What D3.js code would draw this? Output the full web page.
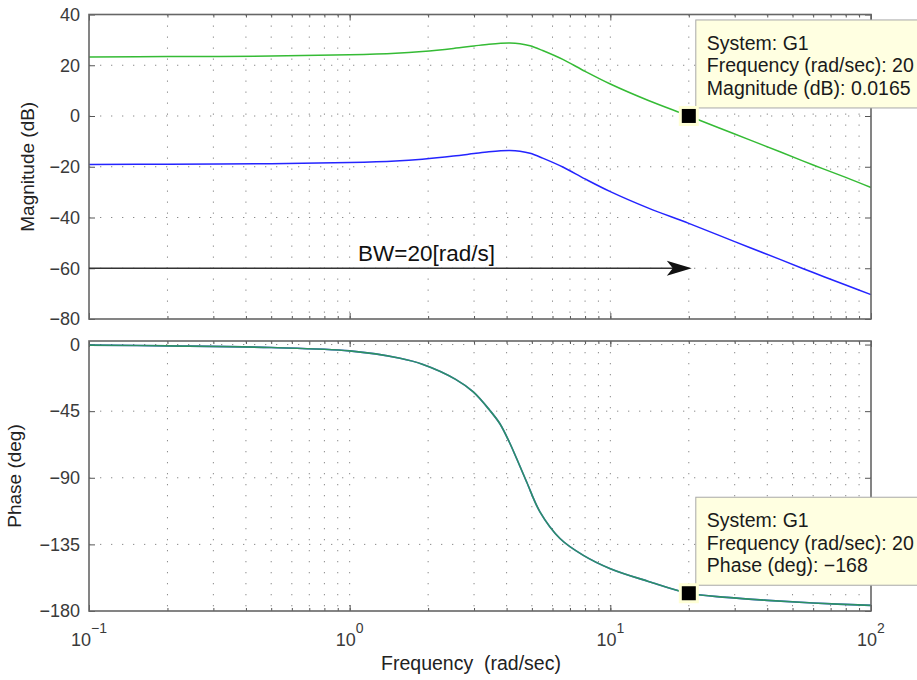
<!DOCTYPE html>
<html>
<head>
<meta charset="utf-8">
<script src="https://cdn.jsdelivr.net/npm/d3@7"></script>
<style>
  body { margin: 0; background: #fff; }
  svg { display: block; font-family: "Liberation Sans", Arial, sans-serif; }
</style>
</head>
<body>
<svg id="chart" width="917" height="680"></svg>
<script>
// Frequency response of G1 (green) and a scaled copy (blue)
const freqMag = [0.1, 0.2, 0.5, 1, 1.5, 1.9, 2.5, 3.0, 3.42, 3.8, 4.12, 4.5, 4.92, 5.5, 6.6, 8, 10, 14, 20, 30, 45, 60, 80, 100];
const magG1   = [23.3, 23.4, 23.6, 24.1, 24.7, 25.4, 26.6, 27.6, 28.3, 28.7, 28.8, 28.5, 27.7, 25.8, 22.2, 17.6, 12.6, 6.1, 0.0165, -7.1, -14.2, -19.3, -24.2, -28.2];
const magG2   = [-19.1, -19.0, -18.8, -18.3, -17.7, -17.0, -15.8, -14.8, -14.1, -13.7, -13.6, -13.9, -14.7, -16.6, -20.2, -24.8, -29.8, -36.3, -42.3, -49.5, -56.6, -61.7, -66.6, -70.4];

const freqPhase = [0.1, 0.2, 0.5, 1, 1.56, 1.9, 2.55, 2.98, 3.45, 3.77, 4.1, 4.37, 4.78, 5.37, 6.41, 7.88, 10, 14, 20, 28, 40, 60, 100];
const phaseDeg  = [-0.4, -0.9, -2.0, -4.3, -9.3, -13.3, -23.5, -32.0, -44.5, -53.5, -66, -77, -93, -113, -131, -142.4, -151.4, -160, -168, -170.8, -172.8, -174.6, -176.2];

const magTicks = [40, 20, 0, -20, -40, -60, -80];
const phaseTicks = [0, -45, -90, -135, -180];
const decadeTicks = [0.1, 1, 10, 100];
const decadeExponents = ["−1", "0", "1", "2"];

const bandwidth = 20;          // rad/s
const bwLevel = -60;           // dB, height of the annotation arrow
const tipFreq = 20, tipMag = 0.0165, tipPhase = -168;

const svg = d3.select("#chart");

const x = d3.scaleLog().domain([0.1, 100]).range([89, 871]);
const yMag = d3.scaleLinear().domain([-80, 40]).range([319, 14.5]);
const yPh = d3.scaleLinear().domain([-180, 2.4]).range([611, 341]);

const minorTicks = x.ticks();
const fmt = d => d < 0 ? "−" + (-d) : String(d);

function panel(y, ticks) {
  const [bottom, top] = y.range();
  const g = svg.append("g");
  g.append("rect").attr("x", x.range()[0]).attr("y", top)
    .attr("width", x.range()[1] - x.range()[0]).attr("height", bottom - top)
    .attr("fill", "#fff");

  // dotted grid
  const grid = g.append("g").attr("stroke", "#8a8a8a").attr("stroke-width", 1)
    .attr("stroke-dasharray", "1.3,9.7");
  grid.selectAll("line.v").data(minorTicks.filter(v => v > 0.1 && v < 100)).join("line")
    .attr("x1", d => x(d)).attr("x2", d => x(d)).attr("y1", top).attr("y2", bottom);
  grid.selectAll("line.h").data(ticks.filter(v => y(v) > top + 1 && y(v) < bottom - 1)).join("line")
    .attr("x1", x.range()[0]).attr("x2", x.range()[1]).attr("y1", d => y(d)).attr("y2", d => y(d));

  // inward ticks on all four sides
  const axes = g.append("g").attr("class", "axes");
  const left = axes.append("g").attr("transform", `translate(${x.range()[0]},0)`)
    .call(d3.axisLeft(y).tickValues(ticks).tickSize(-6).tickPadding(9).tickFormat(fmt));
  axes.append("g").attr("transform", `translate(${x.range()[1]},0)`)
    .call(d3.axisRight(y).tickValues(ticks).tickSize(-6).tickFormat(""));
  axes.append("g").attr("transform", `translate(0,${top})`)
    .call(d3.axisTop(x).tickValues(minorTicks).tickSize(-3).tickFormat(""));
  axes.append("g").attr("transform", `translate(0,${top})`)
    .call(d3.axisTop(x).tickValues(decadeTicks).tickSize(-6).tickFormat(""));
  axes.append("g").attr("transform", `translate(0,${bottom})`)
    .call(d3.axisBottom(x).tickValues(minorTicks).tickSize(-3).tickFormat(""));
  axes.append("g").attr("transform", `translate(0,${bottom})`)
    .call(d3.axisBottom(x).tickValues(decadeTicks).tickSize(-6).tickFormat(""));
  axes.selectAll(".domain").remove();
  axes.selectAll(".tick line").attr("stroke", "#555");
  left.selectAll("text").attr("font-size", 18).attr("fill", "#3a3a3a")
    .attr("font-family", "Liberation Sans, Arial, sans-serif");
  return { g, top, bottom };
}

const pMag = panel(yMag, magTicks);
const pPh = panel(yPh, phaseTicks);

// curves
const smooth = d3.curveCatmullRom.alpha(0.5);
const magLine = (vals) => d3.line().x((d, i) => x(freqMag[i])).y(d => yMag(d)).curve(smooth)(vals);
const phLine = d3.line().x((d, i) => x(freqPhase[i])).y(d => yPh(d)).curve(smooth);

svg.append("path").attr("d", magLine(magG2)).attr("fill", "none").attr("stroke", "#2424ff").attr("stroke-width", 1.5);
svg.append("path").attr("d", magLine(magG1)).attr("fill", "none").attr("stroke", "#35bb35").attr("stroke-width", 1.5);
svg.append("path").attr("d", phLine(phaseDeg)).attr("fill", "none").attr("stroke", "#2424ff").attr("stroke-width", 1.6);
svg.append("path").attr("d", phLine(phaseDeg)).attr("fill", "none").attr("stroke", "#2fb52f").attr("stroke-width", 1.6).attr("stroke-opacity", 0.75);

// frames
[pMag, pPh].forEach(p => {
  svg.append("rect").attr("x", x.range()[0]).attr("y", p.top)
    .attr("width", x.range()[1] - x.range()[0]).attr("height", p.bottom - p.top)
    .attr("fill", "none").attr("stroke", "#666").attr("stroke-width", 1.6);
});

// bandwidth arrow
const ay = yMag(bwLevel), ax0 = x(0.1), ax1 = x(bandwidth) + 3;
svg.append("line").attr("x1", ax0).attr("x2", ax1 - 18).attr("y1", ay).attr("y2", ay)
  .attr("stroke", "#333").attr("stroke-width", 1.6);
svg.append("path")
  .attr("d", `M${ax1},${ay} L${ax1 - 25},${ay - 7.5} L${ax1 - 19},${ay} L${ax1 - 25},${ay + 7.5} Z`)
  .attr("fill", "#111");
svg.append("text").attr("x", 358).attr("y", ay - 7).attr("font-size", 22.5).attr("fill", "#111")
  .text("BW=" + bandwidth + "[rad/s]");

// x tick labels (10^n)
const xl = svg.append("g");
decadeTicks.forEach((v, i) => {
  const t = xl.append("text").attr("x", x(v)).attr("y", 646).attr("text-anchor", "middle")
    .attr("fill", "#3a3a3a").attr("font-size", 18);
  t.append("tspan").text("10");
  t.append("tspan").attr("dy", -13).attr("font-size", 14).text(decadeExponents[i]);
});

// axis titles
svg.append("text").attr("x", 471).attr("y", 670).attr("text-anchor", "middle")
  .attr("font-size", 19.5).attr("fill", "#222").style("white-space", "pre")
  .text("Frequency  (rad/sec)");
svg.append("text").attr("transform", `translate(34,${(yMag.range()[0] + yMag.range()[1]) / 2}) rotate(-90)`)
  .attr("text-anchor", "middle").attr("font-size", 19).attr("fill", "#222").text("Magnitude (dB)");
svg.append("text").attr("transform", `translate(21,${(yPh.range()[0] + yPh.range()[1]) / 2}) rotate(-90)`)
  .attr("text-anchor", "middle").attr("font-size", 19).attr("fill", "#222").text("Phase (deg)");

// data tips
function dataTip(mx, my, lines) {
  const g = svg.append("g");
  g.append("rect").attr("x", mx + 7).attr("y", my - 96).attr("width", 240).attr("height", 88)
    .attr("fill", "#ffffe1").attr("stroke", "#a8a8a8").attr("stroke-width", 1);
  lines.forEach((s, i) => {
    g.append("text").attr("x", mx + 18).attr("y", my - 66 + i * 22.5)
      .attr("font-size", 19.5).attr("fill", "#1a1a1a").text(s);
  });
  g.append("rect").attr("x", mx - 10).attr("y", my - 10).attr("width", 20).attr("height", 20).attr("fill", "#ffffd6");
  g.append("rect").attr("x", mx - 7).attr("y", my - 7).attr("width", 14).attr("height", 14).attr("fill", "#000");
}
dataTip(x(tipFreq), yMag(tipMag), ["System: G1", "Frequency (rad/sec): " + tipFreq, "Magnitude (dB): " + tipMag]);
dataTip(x(tipFreq), yPh(tipPhase), ["System: G1", "Frequency (rad/sec): " + tipFreq, "Phase (deg): " + fmt(tipPhase)]);
</script>
</body>
</html>
